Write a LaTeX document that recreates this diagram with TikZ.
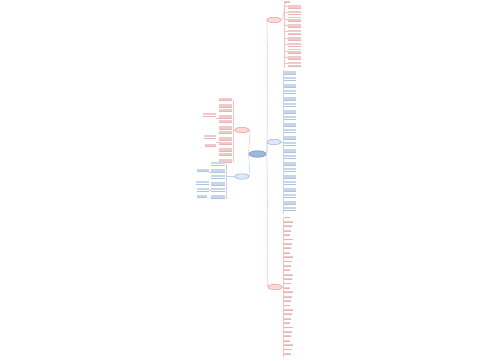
\documentclass[tikz,border=0pt]{standalone}
\usetikzlibrary{shapes.geometric}
\definecolor{cenfill}{HTML}{9DB7D9}
\definecolor{cenline}{HTML}{7396C4}
\definecolor{rfill}{HTML}{FBDADA}
\definecolor{rline}{HTML}{EE9A9A}
\definecolor{bfill}{HTML}{DCE8F5}
\definecolor{bline}{HTML}{9DB9DD}
\definecolor{rtxt}{HTML}{E8B4B4}
\definecolor{btxt}{HTML}{AFC4DE}
\newcommand\tblk[5]{%
  \pgfmathsetmacro\tby{#2}\pgfmathsetmacro\tbw{#3}\pgfmathtruncatemacro\tbn{#4}%
  \foreach \k in {1,...,\tbn}{\draw[line width=0.35pt,#5!70] (#1,{\tby+1.3*\k}) -- ++(\tbw,0);}
  \draw[line width=0.3pt,#5] (#1,{\tby+1.3*\tbn+0.8}) -- ++(\tbw,0);}
\begin{document}
\begin{tikzpicture}[x=0.02cm,y=-0.02cm,
  ell/.style={ellipse,draw,line width=0.3pt,inner sep=0pt,minimum width=0.28cm,minimum height=0.11cm},
  rcon/.style={rline!60,line width=0.3pt},
  bcon/.style={bline!60,line width=0.3pt}]
\useasboundingbox[fill=white] (0,0) rectangle (500,360);
% main nodes
\node[ell,fill=cenfill,draw=cenline,minimum width=0.34cm,minimum height=0.13cm] (c) at (257.5,154) {};
\node[ell,fill=rfill,draw=rline] (lr) at (242,130) {};
\node[ell,fill=bfill,draw=bline] (lb) at (242,176.5) {};
\node[ell,fill=rfill,draw=rline] (rt) at (274,20) {};
\node[ell,fill=bfill,draw=bline] (rm) at (274,142) {};
\node[ell,fill=rfill,draw=rline] (rb) at (275,287) {};
% main connectors
\draw[rcon] (c.west) .. controls (248,154) and (251,130) .. (lr.east);
\draw[bcon] (c.west) .. controls (248,154) and (251,176.5) .. (lb.east);
\draw[rcon] (c.east) .. controls (268,154) and (267.5,24) .. (rt.west);
\draw[bcon] (c.east) .. controls (268,154) and (267.5,142) .. (rm.west);
\draw[rcon] (c.east) .. controls (268,154) and (267.5,283) .. (rb.west);
% right top (red)
\coordinate (rtb) at (286,3);
\draw[rcon] (rt.east) .. controls (284,20) and (284,3) .. (rtb);
\draw[rcon] (284,4) -- (284,68);
\tblk{284}{0}{6}{1}{rtxt}
\foreach \i in {0,...,9}{
  \draw[rcon] (284,{6+6.4*\i}) -- (288,{6+6.4*\i});
  \tblk{288}{3.5+6.4*\i}{13}{3}{rtxt}}
% right middle (blue)
\coordinate (rmb) at (283,142);
\draw[bcon] (rm.east) -- (rmb);
\draw[bcon] (283,70) -- (283,214);
\foreach \i in {0,...,21}{
  \draw[bcon] (283,{72+6.5*\i}) -- (284,{72+6.5*\i});
  \tblk{284}{69.5+6.5*\i}{12}{3}{btxt}}
% right bottom (red)
\coordinate (rbb) at (283,287);
\draw[rcon] (rb.east) -- (rbb);
\draw[rcon] (283,218) -- (283,357);
\foreach \i in {0,...,31}{
  \tblk{284}{215.5+4.4*\i}{6+mod(\i*7,4)}{1}{rtxt}}
% left red
\coordinate (lrb) at (233,130);
\draw[rcon] (lr.west) -- (lrb);
\draw[rcon] (233,100) -- (233,162);
\foreach \i in {0,...,11}{
  \tblk{219}{97+5.5*\i}{13}{2+mod(\i,2)}{rtxt}}
\draw[rcon] (219,118) -- (216,118);
\tblk{203}{112}{13}{3}{rtxt}
\draw[rcon] (219,142) -- (216,142);
\tblk{204}{134}{12}{3}{rtxt}
\tblk{205}{143}{11}{2}{rtxt}
% left blue
\coordinate (lbb) at (226,176.5);
\draw[bcon] (lb.west) -- (lbb);
\draw[bcon] (226,164) -- (226,199);
\foreach \i in {0,...,5}{
  \tblk{211}{161+6.5*\i}{14}{3}{btxt}}
\draw[bcon] (211,172) -- (209,172);
\tblk{197}{168}{12}{2}{btxt}
\draw[bcon] (211,190) -- (209,190);
\tblk{196}{180}{13}{3}{btxt}
\tblk{197}{187}{12}{3}{btxt}
\tblk{197}{194}{10}{2}{btxt}
\end{tikzpicture}
\end{document}
